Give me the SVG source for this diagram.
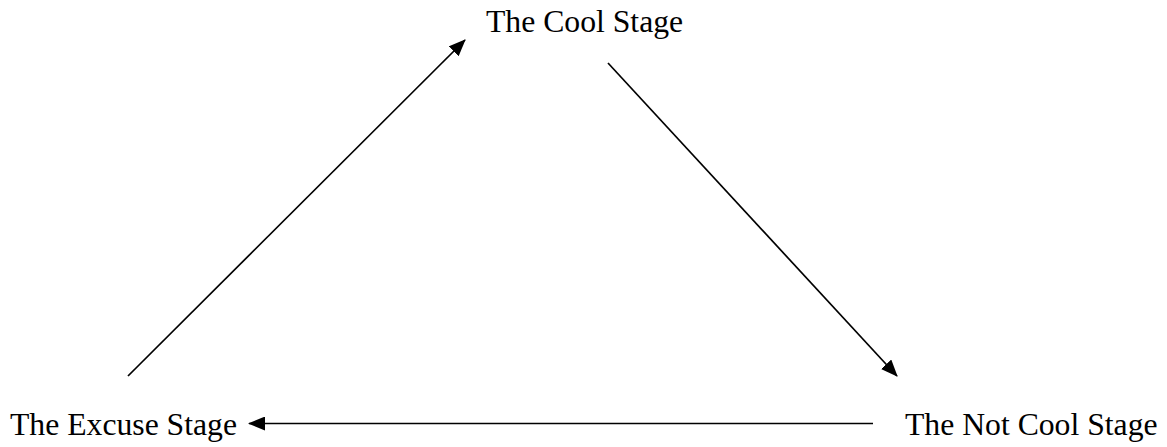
<svg xmlns="http://www.w3.org/2000/svg" width="1167" height="447" viewBox="0 0 1167 447">
<defs>
<marker id="ah" markerWidth="17" markerHeight="14" refX="16" refY="7" orient="auto" markerUnits="userSpaceOnUse">
<path d="M0,0 L17,7 L0,14 Z" fill="#000"/>
</marker>
<style>
.lbl{font-family:"Liberation Serif","Times New Roman",serif;font-size:31.7px;fill:#000}
.c{stroke:#000;stroke-width:1.7;fill:none}
</style>
</defs>
<rect width="1167" height="447" fill="#fff"/>
<g id="cool"><text class="lbl" x="486" y="31.5">The Cool Stage</text></g>
<g id="excuse"><text class="lbl" x="10" y="434.5">The Excuse Stage</text></g>
<g id="notcool"><text class="lbl" x="905" y="434.5">The Not Cool Stage</text></g>
<g id="connectors">
<line class="c" x1="128" y1="376" x2="465" y2="40" marker-end="url(#ah)"/>
<line class="c" x1="608" y1="63" x2="897" y2="376" marker-end="url(#ah)"/>
<line class="c" x1="873" y1="423.5" x2="249" y2="423.5" marker-end="url(#ah)"/>
</g>
</svg>
